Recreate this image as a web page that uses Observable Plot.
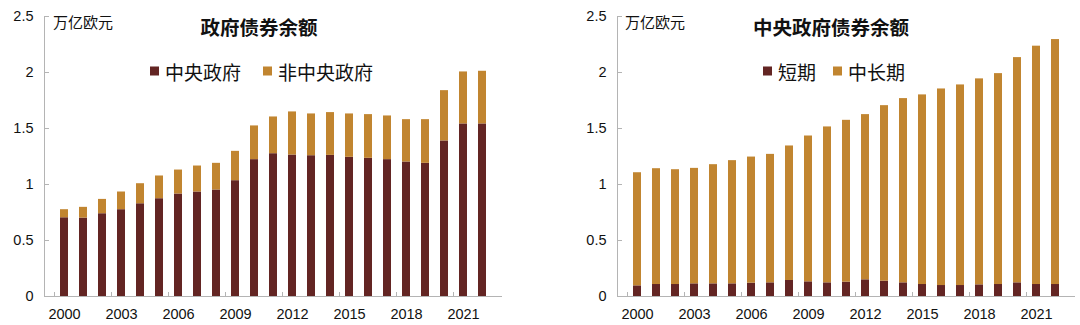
<!DOCTYPE html>
<html>
<head>
<meta charset="utf-8">
<script src="https://cdn.jsdelivr.net/npm/d3@7"></script>
<script src="https://cdn.jsdelivr.net/npm/@observablehq/plot@0.6"></script>
<style>
  html, body { margin: 0; padding: 0; background: #fff; }
  body { width: 1080px; height: 325px; display: flex; font-family: "Noto Sans CJK SC", "Noto Sans", sans-serif; color: #111; }
  .panel { position: relative; width: 540px; height: 325px; }
  .panel svg { position: absolute; left: 0; top: 0; font-family: "Liberation Sans", Arial, sans-serif; }
  .title { position: absolute; transform: translate(-50%, -50%); font-weight: bold; font-size: 19.5px; white-space: nowrap; line-height: 1; }
  .unit { position: absolute; transform: translateY(-50%); font-size: 15px; white-space: nowrap; line-height: 1; }
  .leg { position: absolute; display: flex; align-items: center; font-size: 19px; line-height: 1; white-space: nowrap; transform: translateY(-50%); }
  .leg i { display: inline-block; width: 9px; height: 9px; margin-right: 6px; }
</style>
</head>
<body>
<div class="panel" id="p1">
  <div class="title" style="left:259px; top:27px;">政府债券余额</div>
  <div class="unit" style="left:53px; top:21px;">万亿欧元</div>
  <div class="leg" style="left:150px; top:71px;"><i style="background:#632523"></i>中央政府</div>
  <div class="leg" style="left:263px; top:71px;"><i style="background:#C18530"></i>非中央政府</div>
</div>
<div class="panel" id="p2">
  <div class="title" style="left:291px; top:27px;">中央政府债券余额</div>
  <div class="unit" style="left:85px; top:21px;">万亿欧元</div>
  <div class="leg" style="left:223px; top:71px;"><i style="background:#632523"></i>短期</div>
  <div class="leg" style="left:293px; top:71px;"><i style="background:#C18530"></i>中长期</div>
</div>
<script>
// ---- Data ----
const years = [2000, 2001, 2002, 2003, 2004, 2005, 2006, 2007, 2008, 2009, 2010, 2011,
               2012, 2013, 2014, 2015, 2016, 2017, 2018, 2019, 2020, 2021, 2022];
const labelYears = [2000, 2003, 2006, 2009, 2012, 2015, 2018, 2021];
const yTicks = [0, 0.5, 1, 1.5, 2, 2.5];

// Panel 1: 政府债券余额 (万亿欧元)
const seriesP1 = ["中央政府", "非中央政府"];
const centralGov = [0.703, 0.700, 0.739, 0.775, 0.828, 0.873, 0.915, 0.933, 0.951, 1.034, 1.222, 1.275,
                    1.263, 1.257, 1.260, 1.243, 1.234, 1.222, 1.201, 1.189, 1.389, 1.541, 1.541];
const nonCentralGov = [0.072, 0.096, 0.128, 0.158, 0.179, 0.203, 0.214, 0.232, 0.238, 0.262, 0.301, 0.328,
                       0.385, 0.373, 0.382, 0.387, 0.390, 0.390, 0.378, 0.390, 0.449, 0.464, 0.470];

// Panel 2: 中央政府债券余额 (万亿欧元)
const seriesP2 = ["短期", "中长期"];
const shortTerm = [0.095, 0.107, 0.107, 0.113, 0.113, 0.113, 0.119, 0.122, 0.143, 0.131, 0.122, 0.128,
                   0.149, 0.137, 0.122, 0.107, 0.098, 0.098, 0.104, 0.107, 0.122, 0.107, 0.107];
const longTerm = [1.010, 1.034, 1.025, 1.031, 1.064, 1.100, 1.126, 1.147, 1.201, 1.302, 1.392, 1.445,
                  1.475, 1.567, 1.645, 1.693, 1.755, 1.791, 1.839, 1.883, 2.011, 2.128, 2.187];

const colors = ["#632523", "#C18530"];
const axisGray = "#b4b4b4";

function toRows(names, a, b) {
  const rows = [];
  years.forEach((yr, i) => {
    rows.push({year: yr, series: names[0], value: a[i]});
    rows.push({year: yr, series: names[1], value: b[i]});
  });
  return rows;
}

function panel(rows, names, marginLeft, marginRight) {
  return Plot.plot({
    width: 540,
    height: 325,
    marginLeft,
    marginRight,
    marginTop: 16,
    marginBottom: 29,
    x: {type: "band", domain: years, paddingInner: 0.58, paddingOuter: 0.3, label: null},
    y: {domain: [0, 2.5], label: null},
    color: {domain: names, range: colors},
    marks: [
      Plot.barY(rows, {x: "year", y: "value", fill: "series", order: names}),
      Plot.frame({anchor: "left", stroke: axisGray}),
      Plot.ruleY([0], {stroke: axisGray}),
      Plot.axisY(yTicks, {tickSize: 0, tickPadding: 11, fontSize: 14.5, label: null, fill: "#111",
                          tickFormat: d => String(d)}),
      Plot.axisY(yTicks, {tickSize: 5, dx: 5, fill: "none", stroke: axisGray, label: null}),
      Plot.axisX(labelYears, {tickSize: 0, tickPadding: 12, fontSize: 14.5, label: null, fill: "#111",
                              tickFormat: d => String(d)}),
      Plot.axisX(labelYears, {tickSize: 4, dy: -4, dx: -10, fill: "none", stroke: axisGray, label: null})
    ]
  });
}

document.getElementById("p1").prepend(panel(toRows(seriesP1, centralGov, nonCentralGov), seriesP1, 44, 38));
document.getElementById("p2").prepend(panel(toRows(seriesP2, shortTerm, longTerm), seriesP2, 77, 5));
</script>
</body>
</html>
